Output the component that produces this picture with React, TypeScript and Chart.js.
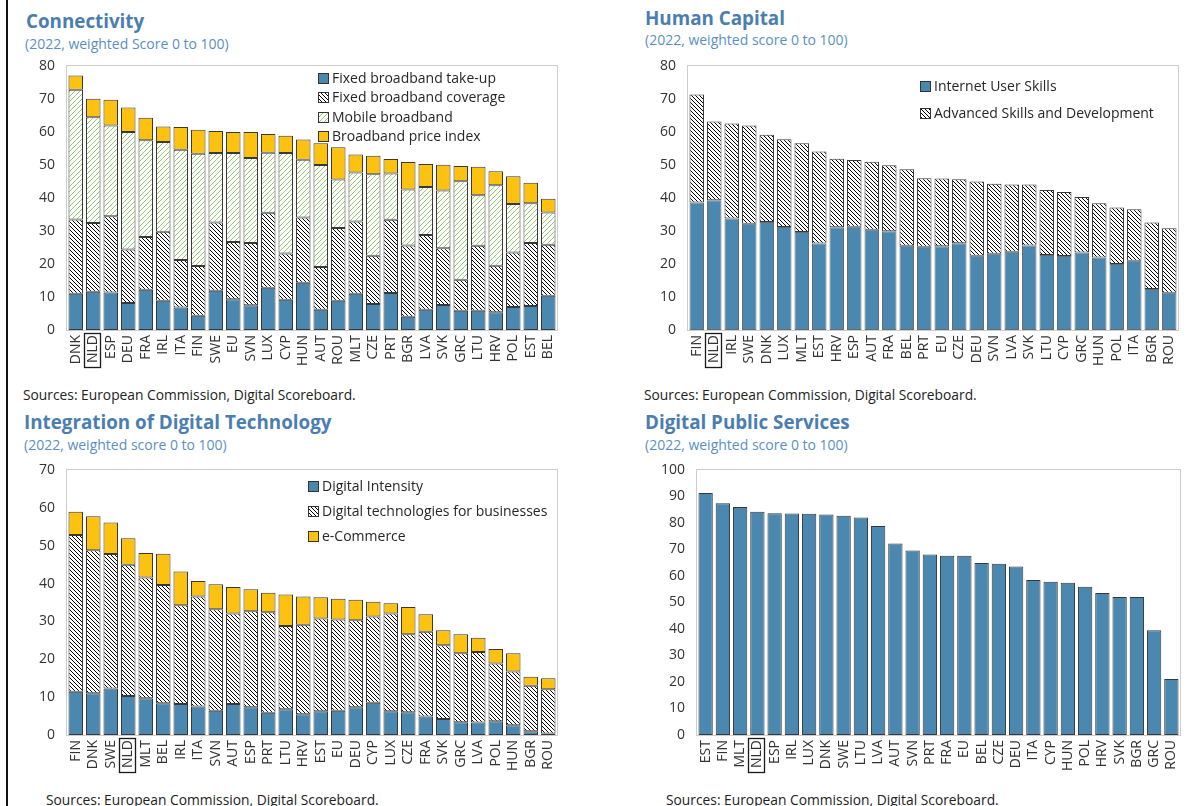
import React, { useEffect, useRef } from 'react';
import { Chart, registerables } from 'chart.js';

Chart.register(...registerables);

const FONT = '"Open Sans", "Noto Sans", sans-serif';
const HIGHLIGHT = 'NLD';

// ---------- Connectivity ----------
const conCategories = ['DNK', 'NLD', 'ESP', 'DEU', 'FRA', 'IRL', 'ITA', 'FIN', 'SWE', 'EU', 'SVN', 'LUX', 'CYP', 'HUN', 'AUT', 'ROU', 'MLT', 'CZE', 'PRT', 'BGR', 'LVA', 'SVK', 'GRC', 'LTU', 'HRV', 'POL', 'EST', 'BEL'];
const conTakeUp = [11.0, 11.6, 11.4, 8.2, 12.2, 8.9, 6.8, 4.3, 11.9, 9.3, 7.5, 12.8, 9.2, 14.3, 6.1, 8.9, 11.0, 7.9, 11.2, 4.0, 6.1, 7.6, 5.8, 5.8, 5.4, 7.0, 7.3, 10.4];
const conCoverage = [22.5, 20.8, 23.1, 16.2, 16.0, 20.9, 14.4, 15.1, 20.7, 17.4, 18.9, 22.7, 14.0, 19.8, 13.0, 22.0, 21.9, 14.6, 22.2, 21.6, 22.7, 17.2, 9.4, 19.7, 14.1, 16.5, 19.1, 15.4];
const conMobile = [39.3, 32.1, 27.5, 35.6, 29.3, 27.2, 33.4, 34.0, 21.0, 26.9, 25.7, 18.2, 30.4, 17.5, 30.9, 14.7, 14.8, 24.7, 14.0, 17.0, 14.5, 17.5, 29.9, 15.3, 24.4, 14.7, 12.0, 9.8];
const conPrice = [4.3, 5.6, 7.8, 7.4, 6.8, 4.7, 6.9, 7.3, 6.7, 6.4, 7.9, 5.7, 5.3, 6.1, 6.6, 9.8, 5.5, 5.6, 4.4, 8.3, 7.0, 7.8, 4.6, 8.7, 4.2, 8.4, 6.2, 4.2];

// ---------- Human Capital ----------
const hcCategories = ['FIN', 'NLD', 'IRL', 'SWE', 'DNK', 'LUX', 'MLT', 'EST', 'HRV', 'ESP', 'AUT', 'FRA', 'BEL', 'PRT', 'EU', 'CZE', 'DEU', 'SVN', 'LVA', 'SVK', 'LTU', 'CYP', 'GRC', 'HUN', 'POL', 'ITA', 'BGR', 'ROU'];
const hcUserSkills = [38.6, 39.3, 33.8, 32.2, 32.7, 31.2, 29.7, 26.2, 31.1, 31.3, 30.4, 29.9, 25.5, 25.2, 25.4, 26.3, 22.5, 23.1, 23.7, 25.6, 22.7, 22.4, 23.5, 22.0, 20.0, 21.0, 12.4, 11.3];
const hcAdvanced = [32.8, 23.9, 28.8, 29.8, 26.5, 26.6, 26.9, 27.9, 20.8, 20.2, 20.6, 20.0, 23.2, 20.8, 20.5, 19.4, 22.5, 21.2, 20.4, 18.5, 19.7, 19.4, 16.8, 16.4, 17.1, 15.6, 20.2, 19.5];

// ---------- Integration of Digital Technology ----------
const idtCategories = ['FIN', 'DNK', 'SWE', 'NLD', 'MLT', 'BEL', 'IRL', 'ITA', 'SVN', 'AUT', 'ESP', 'PRT', 'LTU', 'HRV', 'EST', 'EU', 'DEU', 'CYP', 'LUX', 'CZE', 'FRA', 'SVK', 'GRC', 'LVA', 'POL', 'HUN', 'BGR', 'ROU'];
const idtIntensity = [11.4, 11.0, 12.3, 10.3, 9.7, 8.4, 8.2, 7.5, 6.4, 8.2, 7.3, 5.9, 6.8, 5.5, 6.3, 6.4, 7.3, 8.5, 6.3, 6.0, 4.9, 4.2, 3.4, 3.3, 3.6, 2.6, 1.0, 0.4];
const idtBusiness = [41.4, 37.8, 35.5, 34.7, 31.9, 31.2, 26.1, 29.1, 26.8, 23.9, 25.4, 26.5, 22.0, 23.6, 24.5, 24.1, 23.0, 22.8, 25.8, 20.6, 22.4, 19.5, 18.2, 18.6, 15.3, 14.2, 12.0, 11.7];
const idtCommerce = [6.2, 9.0, 8.3, 7.0, 6.5, 8.3, 8.9, 4.1, 6.6, 7.0, 5.8, 5.2, 8.3, 7.5, 5.6, 5.5, 5.4, 3.9, 2.7, 7.2, 4.6, 4.0, 5.0, 3.8, 3.8, 4.8, 2.4, 2.9];

// ---------- Digital Public Services ----------
const dpsCategories = ['EST', 'FIN', 'MLT', 'NLD', 'ESP', 'IRL', 'LUX', 'DNK', 'SWE', 'LTU', 'LVA', 'AUT', 'SVN', 'PRT', 'FRA', 'EU', 'BEL', 'CZE', 'DEU', 'ITA', 'CYP', 'HUN', 'POL', 'HRV', 'SVK', 'BGR', 'GRC', 'ROU'];
const dpsScores = [91.3, 87.5, 86.0, 84.2, 83.7, 83.6, 83.5, 83.2, 82.7, 82.1, 78.9, 72.3, 69.6, 68.1, 67.6, 67.6, 64.9, 64.6, 63.6, 58.5, 57.8, 57.5, 55.9, 53.6, 52.1, 52.1, 39.5, 21.1];

const BLUE = '#4a88b0';
const YELLOW = '#fcc20f';
const EDGE = '#383838';

function hatch(ctx: CanvasRenderingContext2D, color: string, dir: 'back' | 'fwd', size: number, lw: number) {
  const c = document.createElement('canvas');
  c.width = size;
  c.height = size;
  const g = c.getContext('2d')!;
  g.fillStyle = '#ffffff';
  g.fillRect(0, 0, size, size);
  g.strokeStyle = color;
  g.lineWidth = lw;
  g.beginPath();
  if (dir === 'back') {
    g.moveTo(-1, -1); g.lineTo(size + 1, size + 1);
    g.moveTo(size - 1, -1); g.lineTo(size + 1, 1);
    g.moveTo(-1, size - 1); g.lineTo(1, size + 1);
  } else {
    g.moveTo(-1, size + 1); g.lineTo(size + 1, -1);
    g.moveTo(-1, 1); g.lineTo(1, -1);
    g.moveTo(size - 1, size + 1); g.lineTo(size + 1, size - 1);
  }
  g.stroke();
  return ctx.createPattern(c, 'repeat')!;
}

const framePlugin = {
  id: 'frame',
  beforeDatasetsDraw(chart: any) {
    const { ctx, chartArea: a } = chart;
    ctx.save();
    ctx.strokeStyle = '#cdcdcd';
    ctx.lineWidth = 1;
    ctx.strokeRect(Math.round(a.left) - 0.5, Math.round(a.top) - 0.5, Math.round(a.right - a.left) + 1, Math.round(a.bottom - a.top) + 1);
    ctx.restore();
  },
};

const legendPlugin = {
  id: 'innerLegend',
  defaults: { show: false, x: 0, y: 0, gap: 20 },
  afterDraw(chart: any, _args: any, opts: any) {
    if (!opts || !opts.show) return;
    const { ctx, chartArea: a } = chart;
    ctx.save();
    ctx.font = `14px ${FONT}`;
    ctx.textBaseline = 'middle';
    ctx.textAlign = 'left';
    chart.data.datasets.forEach((ds: any, i: number) => {
      const x = Math.round(a.left + opts.x);
      const y = Math.round(a.top + opts.y + i * opts.gap);
      ctx.fillStyle = ds.backgroundColor;
      ctx.fillRect(x, y - 5, 11, 11);
      ctx.strokeStyle = '#333';
      ctx.lineWidth = 1;
      ctx.strokeRect(x + 0.5, y - 4.5, 10, 10);
      ctx.fillStyle = '#262626';
      ctx.fillText(ds.label, x + 14, y + 1);
    });
    ctx.restore();
  },
};

const highlightPlugin = {
  id: 'highlightTick',
  afterDraw(chart: any) {
    const labels = chart.data.labels as string[];
    const i = labels.indexOf(HIGHLIGHT);
    if (i < 0) return;
    const xs = chart.scales.x;
    const { ctx, chartArea: a } = chart;
    ctx.save();
    ctx.font = `14px ${FONT}`;
    const w = ctx.measureText(HIGHLIGHT).width;
    const x = Math.round(xs.getPixelForTick(i));
    ctx.strokeStyle = '#1a1a1a';
    ctx.lineWidth = 1.3;
    ctx.strokeRect(x - 8.5, Math.round(a.bottom) + 3.5, 16, Math.round(w) + 6);
    ctx.restore();
  },
};

type DS = { label: string; data: number[]; backgroundColor: any; borderColor?: string };

function build(canvas: HTMLCanvasElement, labels: string[], datasets: DS[], yMax: number, yAxisWidth: number, legend: any) {
  return new Chart(canvas, {
    type: 'bar',
    data: {
      labels,
      datasets: datasets.map((d) => ({
        label: d.label,
        data: d.data,
        backgroundColor: d.backgroundColor,
        borderColor: d.borderColor || EDGE,
        borderWidth: 1,
        borderSkipped: false,
        barPercentage: 0.83,
        categoryPercentage: 1,
      })),
    },
    options: {
      animation: false,
      responsive: false,
      devicePixelRatio: 1,
      layout: { padding: { left: 0, top: 10, right: 10, bottom: 0 } },
      plugins: {
        legend: { display: false },
        tooltip: { enabled: false },
        innerLegend: legend,
      } as any,
      scales: {
        x: {
          stacked: true,
          grid: { display: false, drawTicks: false },
          border: { display: false },
          ticks: {
            autoSkip: false,
            minRotation: 90,
            maxRotation: 90,
            padding: 5,
            color: '#333',
            font: { family: FONT, size: 14 },
          },
          afterFit: (s: any) => { s.height = 50; s.paddingLeft = 0; s.paddingRight = 0; },
        },
        y: {
          stacked: true,
          min: 0,
          max: yMax,
          grid: { display: false, drawTicks: false },
          border: { display: false },
          ticks: {
            stepSize: 10,
            padding: 12,
            color: '#333',
            font: { family: FONT, size: 14 },
          },
          afterFit: (s: any) => { s.width = yAxisWidth; s.paddingTop = 0; s.paddingBottom = 0; },
        },
      },
    },
    plugins: [framePlugin, legendPlugin, highlightPlugin],
  } as any);
}

const titleStyle: React.CSSProperties = {
  position: 'absolute', fontSize: 18.8, fontWeight: 700, color: '#4a7eb1', lineHeight: '24px', whiteSpace: 'nowrap',
};
const subStyle: React.CSSProperties = {
  position: 'absolute', fontSize: 14, color: '#5a8fc3', lineHeight: '20px', whiteSpace: 'nowrap',
};
const srcStyle: React.CSSProperties = {
  position: 'absolute', fontSize: 13.8, color: '#222', lineHeight: '18px', whiteSpace: 'nowrap',
};

export default function App() {
  const c1 = useRef<HTMLCanvasElement>(null);
  const c2 = useRef<HTMLCanvasElement>(null);
  const c3 = useRef<HTMLCanvasElement>(null);
  const c4 = useRef<HTMLCanvasElement>(null);

  useEffect(() => {
    const charts: Chart[] = [];
    const ctx = c1.current!.getContext('2d')!;
    const black = hatch(ctx, '#000000', 'back', 4, 1.0);
    const green = hatch(ctx, '#93c971', 'fwd', 5, 1.0);

    charts.push(build(c1.current!, conCategories, [
      { label: 'Fixed broadband take-up', data: conTakeUp, backgroundColor: BLUE },
      { label: 'Fixed broadband coverage', data: conCoverage, backgroundColor: black },
      { label: 'Mobile broadband', data: conMobile, backgroundColor: green },
      { label: 'Broadband price index', data: conPrice, backgroundColor: YELLOW },
    ], 80, 67, { show: true, x: 251, y: 12, gap: 19.3 }));

    charts.push(build(c2.current!, hcCategories, [
      { label: 'Internet User Skills', data: hcUserSkills, backgroundColor: BLUE, borderColor: '#6b6b6b' },
      { label: 'Advanced Skills and Development', data: hcAdvanced, backgroundColor: black },
    ], 80, 68, { show: true, x: 232, y: 20, gap: 27 }));

    charts.push(build(c3.current!, idtCategories, [
      { label: 'Digital Intensity', data: idtIntensity, backgroundColor: BLUE },
      { label: 'Digital technologies for businesses', data: idtBusiness, backgroundColor: black },
      { label: 'e-Commerce', data: idtCommerce, backgroundColor: YELLOW },
    ], 70, 67, { show: true, x: 241, y: 16, gap: 25 }));

    charts.push(build(c4.current!, dpsCategories, [
      { label: 'Digital Public Services', data: dpsScores, backgroundColor: BLUE },
    ], 100, 77, { show: false }));

    return () => charts.forEach((c) => c.destroy());
  }, []);

  return (
    <div style={{ position: 'absolute', left: 0, top: 0, width: 1199, height: 806, background: '#fff', fontFamily: FONT, overflow: 'hidden' }}>
      <div style={{ position: 'absolute', left: 6, top: 0, width: 2, height: 806, background: '#111' }} />

      <div style={{ ...titleStyle, left: 26, top: 9 }}>Connectivity</div>
      <div style={{ ...subStyle, left: 25, top: 34 }}>(2022, weighted Score 0 to 100)</div>
      <canvas ref={c1} width={567} height={324} style={{ position: 'absolute', left: 0, top: 56 }} />
      <div style={{ ...srcStyle, left: 23, top: 386 }}>Sources: European Commission, Digital Scoreboard.</div>

      <div style={{ ...titleStyle, left: 645, top: 6 }}>Human Capital</div>
      <div style={{ ...subStyle, left: 645, top: 30 }}>(2022, weighted score 0 to 100)</div>
      <canvas ref={c2} width={568} height={324} style={{ position: 'absolute', left: 620, top: 56 }} />
      <div style={{ ...srcStyle, left: 644, top: 386 }}>Sources: European Commission, Digital Scoreboard.</div>

      <div style={{ ...titleStyle, left: 24, top: 410 }}>Integration of Digital Technology</div>
      <div style={{ ...subStyle, left: 24, top: 435 }}>(2022, weighted score 0 to 100)</div>
      <canvas ref={c3} width={567} height={325} style={{ position: 'absolute', left: 0, top: 460 }} />
      <div style={{ ...srcStyle, left: 46, top: 791 }}>Sources: European Commission, Digital Scoreboard.</div>

      <div style={{ ...titleStyle, left: 645, top: 410 }}>Digital Public Services</div>
      <div style={{ ...subStyle, left: 645, top: 435 }}>(2022, weighted score 0 to 100)</div>
      <canvas ref={c4} width={570} height={325} style={{ position: 'absolute', left: 620, top: 460 }} />
      <div style={{ ...srcStyle, left: 666, top: 791 }}>Sources: European Commission, Digital Scoreboard.</div>
    </div>
  );
}
